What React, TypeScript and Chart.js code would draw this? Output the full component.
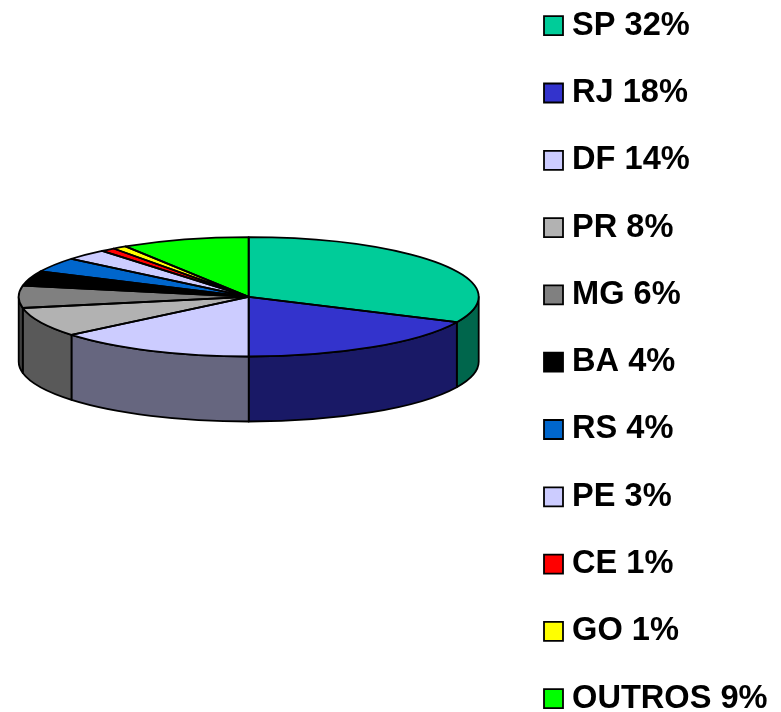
import React, { useEffect, useRef } from "react";
import { Chart, registerables } from "chart.js";

Chart.register(...registerables);

const categories = ["SP", "RJ", "DF", "PR", "MG", "BA", "RS", "PE", "CE", "GO", "OUTROS"];
const shares = [32, 18, 14, 8, 6, 4, 4, 3, 1, 1, 9];
const sliceColors = ["#00CC99", "#3333CC", "#CCCCFF", "#B2B2B2", "#808080", "#000000", "#0066CC", "#CCCCFF", "#FF0000", "#FFFF00", "#00FF00"];
const labels = categories.map((c, i) => `${c} ${shares[i]}%`);

const SQUASH = 0.2595;
const DEPTH = 65;
const FONT_SIZE = 32.6;
const ROW_GAP = 67.3 - FONT_SIZE;

const halve = (hex: string) => {
  const n = parseInt(hex.slice(1), 16);
  const r = (n >> 16) >> 1, g = ((n >> 8) & 255) >> 1, b = (n & 255) >> 1;
  return `rgb(${r},${g},${b})`;
};

const pie3d = {
  id: "pie3d",
  afterLayout(chart: any) {
    const a = chart.chartArea;
    a.left = 18.7; a.right = 478.7; a.top = 66.8; a.bottom = 526.8;
    a.width = 460; a.height = 460;
    const lg = chart.legend;
    lg.maxHeight = 1000;
    lg.fit();
    lg.adjustHitBoxes();
    lg.left = 551.25 - ROW_GAP;
    lg.right = lg.left + lg.width;
    lg.top = 25.7 - FONT_SIZE / 2 - ROW_GAP;
    lg.bottom = lg.top + lg.height;
  },
  beforeDatasetsDraw(chart: any) {
    const ctx = chart.ctx;
    const arcs = chart.getDatasetMeta(0).data;
    ctx.save();
    ctx.lineWidth = 1.8;
    ctx.strokeStyle = "#000";
    ctx.lineJoin = "round";
    arcs.forEach((arc: any, i: number) => {
      const { x, y, outerRadius: r, startAngle, endAngle } = arc;
      const a0 = Math.max(startAngle, 0), a1 = Math.min(endAngle, Math.PI);
      if (a1 <= a0) return;
      const ry = r * SQUASH;
      ctx.beginPath();
      ctx.ellipse(x, y, r, ry, 0, a0, a1);
      ctx.ellipse(x, y + DEPTH, r, ry, 0, a1, a0, true);
      ctx.closePath();
      ctx.fillStyle = halve(sliceColors[i]);
      ctx.fill();
      ctx.stroke();
    });
    ctx.restore();
    const cy = arcs[0].y;
    ctx.save();
    ctx.translate(0, cy);
    ctx.scale(1, SQUASH);
    ctx.translate(0, -cy);
  },
  afterDatasetsDraw(chart: any) {
    const ctx = chart.ctx;
    ctx.restore();
    ctx.save();
    ctx.lineWidth = 1.8;
    ctx.strokeStyle = "#000";
    ctx.lineJoin = "round";
    chart.getDatasetMeta(0).data.forEach((arc: any) => {
      const { x, y, outerRadius: r, startAngle, endAngle } = arc;
      ctx.beginPath();
      ctx.moveTo(x, y);
      ctx.ellipse(x, y, r, r * SQUASH, 0, startAngle, endAngle);
      ctx.closePath();
      ctx.stroke();
    });
    ctx.restore();
  },
};

export default function App() {
  const ref = useRef<HTMLCanvasElement>(null);
  useEffect(() => {
    const chart = new Chart(ref.current!, {
      type: "pie",
      data: {
        labels,
        datasets: [{ data: shares, backgroundColor: sliceColors, borderWidth: 0 }],
      },
      options: {
        animation: false,
        responsive: false,
        events: [],
        plugins: {
          tooltip: { enabled: false },
          legend: {
            position: "right",
            align: "start",
            labels: {
              usePointStyle: true,
              boxWidth: 4.5,
              boxHeight: 19,
              padding: ROW_GAP,
              color: "#000",
              font: { family: "'Liberation Sans', Arial, sans-serif", size: FONT_SIZE, weight: "bold" },
              generateLabels: () =>
                labels.map((text, i) => ({
                  text,
                  index: i,
                  datasetIndex: 0,
                  fillStyle: sliceColors[i],
                  strokeStyle: "#000",
                  lineWidth: 1.8,
                  pointStyle: "rect",
                  hidden: false,
                })),
            },
          },
        },
      },
      plugins: [pie3d],
    } as any);
    return () => chart.destroy();
  }, []);
  return (
    <div style={{ position: "absolute", left: 0, top: 0, width: 781, height: 712, overflow: "hidden", background: "#fff" }}>
      <canvas ref={ref} width={781} height={712} style={{ display: "block" }} />
    </div>
  );
}
